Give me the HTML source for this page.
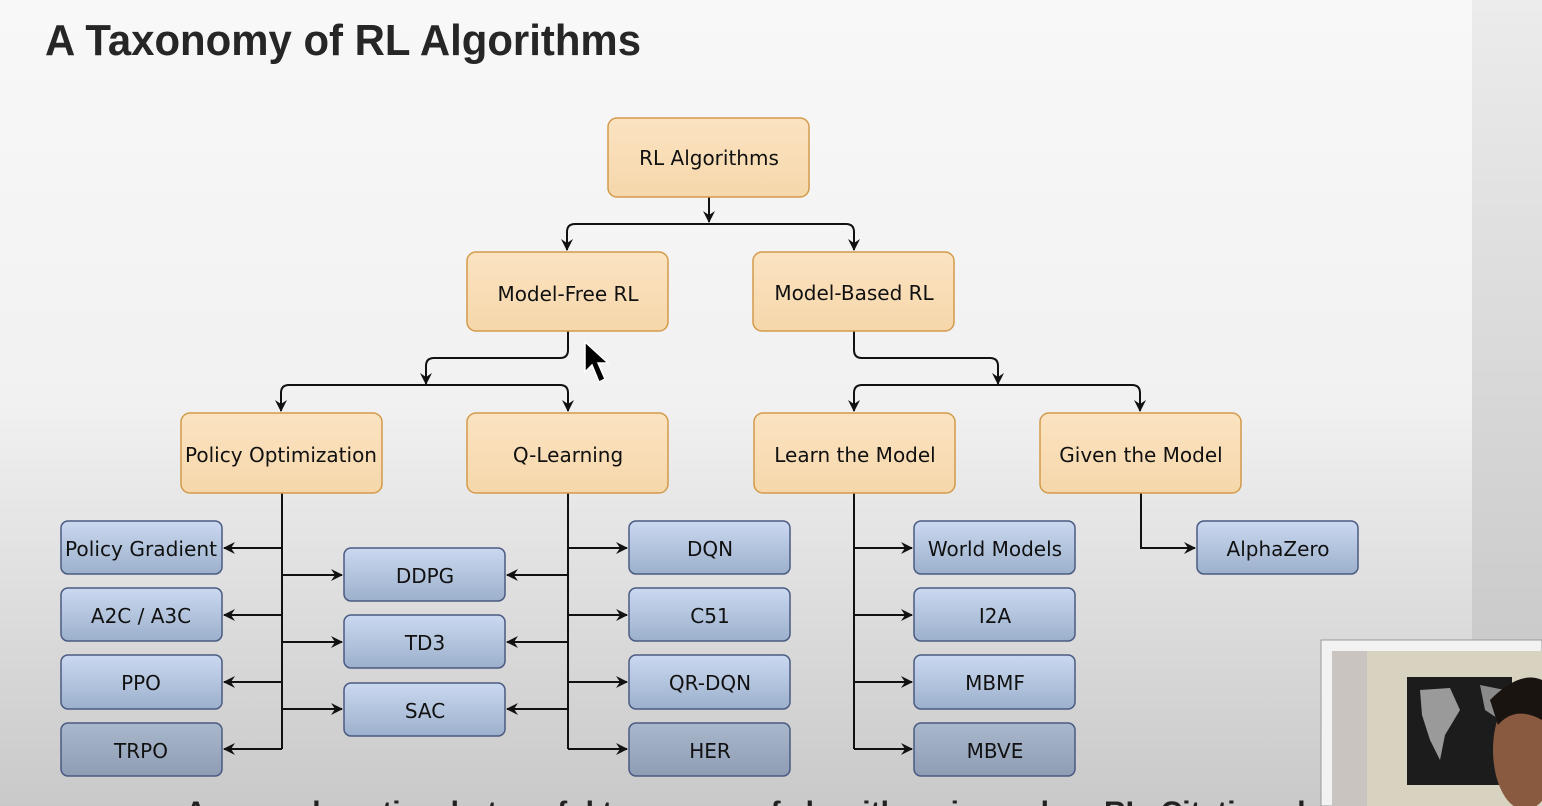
<!DOCTYPE html>
<html><head><meta charset="utf-8"><style>
html,body{margin:0;padding:0;width:1542px;height:806px;overflow:hidden}
svg{display:block}
text{font-family:"DejaVu Sans","Liberation Sans",sans-serif}
</style></head><body>
<svg width="1542" height="806" viewBox="0 0 1542 806" xmlns="http://www.w3.org/2000/svg">
<defs>
<linearGradient id="bg" x1="0" y1="0" x2="0" y2="1">
<stop offset="0" stop-color="#f8f8f8"/><stop offset="0.5" stop-color="#f1f1f1"/><stop offset="1" stop-color="#c9c9c9"/>
</linearGradient>
<linearGradient id="bg2" x1="0" y1="0" x2="0" y2="1">
<stop offset="0" stop-color="#ececec"/><stop offset="1" stop-color="#c2c2c2"/>
</linearGradient>
<linearGradient id="blue" x1="0" y1="0" x2="0" y2="1">
<stop offset="0" stop-color="#cbd9f0"/><stop offset="1" stop-color="#9cb0cc"/>
</linearGradient>
<linearGradient id="blue2" x1="0" y1="0" x2="0" y2="1">
<stop offset="0" stop-color="#a9b8cc"/><stop offset="1" stop-color="#8e9db4"/>
</linearGradient>
<linearGradient id="or" x1="0" y1="0" x2="0" y2="1">
<stop offset="0" stop-color="#fbe3c1"/><stop offset="1" stop-color="#f6d7ab"/>
</linearGradient>
<marker id="a" markerWidth="12" markerHeight="12" refX="11" refY="6" orient="auto" markerUnits="userSpaceOnUse">
<path d="M0,0 L12,6 L0,12 L4,6 Z" fill="#111"/>
</marker>
</defs>
<rect width="1542" height="806" fill="url(#bg)"/>
<rect x="1472" y="0" width="70" height="806" fill="url(#bg2)"/>
<text x="45" y="55" font-weight="bold" font-size="44" fill="#262626" textLength="596" lengthAdjust="spacingAndGlyphs" style="font-family:'Liberation Sans',sans-serif">A Taxonomy of RL Algorithms</text>

<g stroke="#111" stroke-width="2" fill="none">
<path d="M709,197 V222" marker-end="url(#a)"/>
<path d="M567,250 V232 Q567,224 575,224 H846 Q854,224 854,232 V250" />
<path d="M567,240 V250" marker-end="url(#a)"/><path d="M854,240 V250" marker-end="url(#a)"/>
<path d="M568,331 V350 Q568,358 560,358 H434 Q426,358 426,366 V384" marker-end="url(#a)"/>
<path d="M281,411 V393 Q281,385 289,385 H560 Q568,385 568,393 V411"/>
<path d="M281,400 V411" marker-end="url(#a)"/><path d="M568,400 V411" marker-end="url(#a)"/>
<path d="M854,331 V350 Q854,358 862,358 H990 Q998,358 998,366 V384" marker-end="url(#a)"/>
<path d="M854,411 V393 Q854,385 862,385 H1132 Q1140,385 1140,393 V411"/>
<path d="M854,400 V411" marker-end="url(#a)"/><path d="M1140,400 V411" marker-end="url(#a)"/>
<path d="M282,493 V749"/>
<path d="M282,548 H224" marker-end="url(#a)"/><path d="M282,615 H224" marker-end="url(#a)"/>
<path d="M282,682 H224" marker-end="url(#a)"/><path d="M282,749 H224" marker-end="url(#a)"/>
<path d="M282,575 H342" marker-end="url(#a)"/><path d="M282,642 H342" marker-end="url(#a)"/><path d="M282,709 H342" marker-end="url(#a)"/>
<path d="M568,493 V749"/>
<path d="M568,575 H507" marker-end="url(#a)"/><path d="M568,642 H507" marker-end="url(#a)"/><path d="M568,709 H507" marker-end="url(#a)"/>
<path d="M568,548 H627" marker-end="url(#a)"/><path d="M568,615 H627" marker-end="url(#a)"/>
<path d="M568,682 H627" marker-end="url(#a)"/><path d="M568,749 H627" marker-end="url(#a)"/>
<path d="M854,493 V749"/>
<path d="M854,548 H912" marker-end="url(#a)"/><path d="M854,615 H912" marker-end="url(#a)"/>
<path d="M854,682 H912" marker-end="url(#a)"/><path d="M854,749 H912" marker-end="url(#a)"/>
<path d="M1141,493 V548 H1195" marker-end="url(#a)"/>
</g>

<g stroke="#d39a4a" stroke-width="1.5" fill="url(#or)">
<rect x="608" y="118" width="201" height="79" rx="9"/>
<rect x="467" y="252" width="201" height="79" rx="9"/>
<rect x="753" y="252" width="201" height="79" rx="9"/>
<rect x="181" y="413" width="201" height="80" rx="9"/>
<rect x="467" y="413" width="201" height="80" rx="9"/>
<rect x="754" y="413" width="201" height="80" rx="9"/>
<rect x="1040" y="413" width="201" height="80" rx="9"/>
</g>
<g font-size="20" fill="#111" text-anchor="middle">
<text x="709" y="165">RL Algorithms</text>
<text x="568" y="301">Model-Free RL</text>
<text x="854" y="300">Model-Based RL</text>
<text x="281" y="462" textLength="192" lengthAdjust="spacingAndGlyphs">Policy Optimization</text>
<text x="568" y="462">Q-Learning</text>
<text x="855" y="462">Learn the Model</text>
<text x="1141" y="462">Given the Model</text>
</g>

<g stroke="#4a5a82" stroke-width="1.5" fill="url(#blue)">
<rect x="61" y="521" width="161" height="53" rx="7"/>
<rect x="61" y="588" width="161" height="53" rx="7"/>
<rect x="61" y="655" width="161" height="54" rx="7"/>
<rect x="61" y="723" width="161" height="53" rx="7" fill="url(#blue2)"/>
<rect x="344" y="548" width="161" height="53" rx="7"/>
<rect x="344" y="615" width="161" height="53" rx="7"/>
<rect x="344" y="683" width="161" height="53" rx="7"/>
<rect x="629" y="521" width="161" height="53" rx="7"/>
<rect x="629" y="588" width="161" height="53" rx="7"/>
<rect x="629" y="655" width="161" height="54" rx="7"/>
<rect x="629" y="723" width="161" height="53" rx="7" fill="url(#blue2)"/>
<rect x="914" y="521" width="161" height="53" rx="7"/>
<rect x="914" y="588" width="161" height="53" rx="7"/>
<rect x="914" y="655" width="161" height="54" rx="7"/>
<rect x="914" y="723" width="161" height="53" rx="7" fill="url(#blue2)"/>
<rect x="1197" y="521" width="161" height="53" rx="7"/>
</g>
<g font-size="20" fill="#111" text-anchor="middle">
<text x="141" y="556" textLength="152" lengthAdjust="spacingAndGlyphs">Policy Gradient</text>
<text x="141" y="623">A2C / A3C</text>
<text x="141" y="690">PPO</text>
<text x="141" y="758">TRPO</text>
<text x="425" y="583">DDPG</text>
<text x="425" y="650">TD3</text>
<text x="425" y="718">SAC</text>
<text x="710" y="556">DQN</text>
<text x="710" y="623">C51</text>
<text x="710" y="690">QR-DQN</text>
<text x="710" y="758">HER</text>
<text x="995" y="556">World Models</text>
<text x="995" y="623">I2A</text>
<text x="995" y="690">MBMF</text>
<text x="995" y="758">MBVE</text>
<text x="1278" y="556">AlphaZero</text>
</g>

<text x="185" y="822" font-size="30" font-weight="bold" fill="#222" style="font-family:'Liberation Sans',sans-serif">A non-exhaustive, but useful taxonomy of algorithms in modern RL. Citations below.</text>

<path d="M585,342 L585,372 L592,365 L599,382 L605,379 L598,363 L608,363 Z" fill="#000" stroke="#fff" stroke-width="1.5"/>

<g>
<rect x="1321" y="640" width="221" height="166" fill="#f2f2f2" stroke="#999" stroke-width="1"/>
<rect x="1332" y="651" width="210" height="155" fill="#d8d3c0"/>
<rect x="1332" y="651" width="35" height="155" fill="#c9c4c0"/>
<rect x="1407" y="677" width="105" height="108" fill="#1c1c1c"/>
<path d="M1420,690 L1450,688 L1460,710 L1445,735 L1440,760 L1430,740 L1422,715 Z" fill="#9a9a9a"/>
<path d="M1480,685 L1505,690 L1500,720 L1485,710 Z" fill="#8a8a8a"/>
<ellipse cx="1525" cy="750" rx="32" ry="60" fill="#8a5a40"/>
<path d="M1490,700 Q1520,670 1542,680 L1542,720 Q1515,705 1498,725 Z" fill="#1a1410"/>
</g>
</svg>
</body></html>
